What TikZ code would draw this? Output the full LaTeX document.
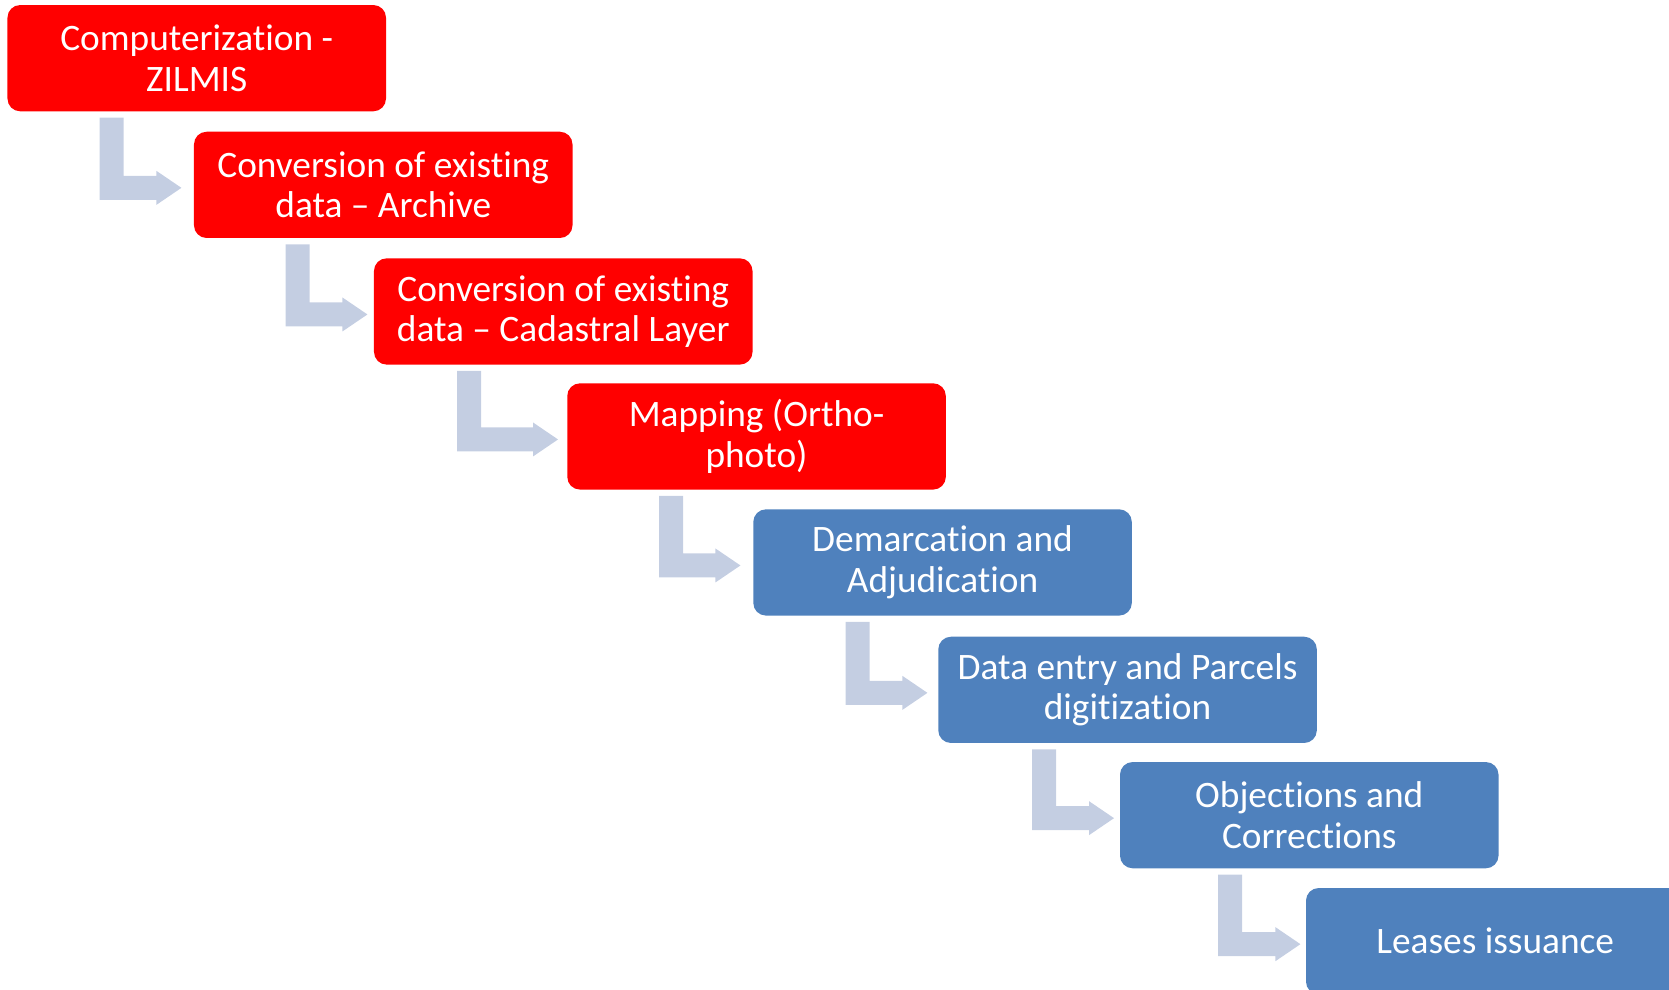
\documentclass[tikz,border=0pt]{standalone}
\usepackage{fontspec}
\setmainfont[Ligatures=NoCommon]{Carlito}
\usetikzlibrary{calc}
\definecolor{boxred}{RGB}{255,0,0}
\definecolor{boxblue}{RGB}{79,129,189}
\definecolor{arrfill}{RGB}{196,206,226}
\tikzset{
  stepbox/.style={rectangle, rounded corners=9.5pt, minimum width=283.9pt, minimum height=79.7pt,
    inner sep=0pt, text=white, align=center, font=\fontsize{28}{30.4}\selectfont},
  redbox/.style={stepbox, fill=boxred},
  bluebox/.style={stepbox, fill=boxblue},
  bentfill/.style={fill=arrfill}
}
% #1 previous node, #2 next node, #3 bar offset from previous left edge, #4 gap before next box
\newcommand\bentarr[4]{%
  \coordinate (s) at ($(#1.south west)+(#3,6)$);
  \coordinate (t) at ($(#2.west)+(-#4,3)$);
  \fill[bentfill] (s) -- ++(24,0) -- ($(s |- t)+(24,-12)$) -- ($(t)+(-25,-12)$)
    -- ($(t)+(-25,-17)$) -- (t) -- ($(t)+(-25,17)$) -- ($(t)+(-25,12)$)
    -- ($(s |- t)+(0,12)$) -- cycle;
}
\begin{document}
\begin{tikzpicture}[x=0.75pt,y=-0.75pt]
\useasboundingbox (0,0) rectangle (1669,989);
\clip (0,0) rectangle (1669,989);
\node[redbox] (b1) at (196.75,58.15) {Computerization -\\ZILMIS};
\node[redbox] (b2) at (383.25,184.85) {Conversion of existing\\data -- Archive};
\node[redbox] (b3) at (563.25,311.45) {Conversion of existing\\data -- Cadastral Layer};
\node[redbox] (b4) at (756.55,436.45) {Mapping (Ortho-\\photo)};
\node[bluebox] (b5) at (942.55,562.45) {Demarcation and\\Adjudication};
\node[bluebox] (b6) at (1127.55,689.85) {Data entry and Parcels\\digitization};
\node[bluebox] (b7) at (1309.25,815.15) {Objections and\\Corrections};
\node[bluebox] (b8) at (1495.25,941.15) {Leases issuance};
\bentarr{b1}{b2}{92.5}{12.3}
\bentarr{b2}{b3}{92}{6.3}
\bentarr{b3}{b4}{83.3}{9}
\bentarr{b4}{b5}{92}{12.6}
\bentarr{b5}{b6}{92.7}{10.6}
\bentarr{b6}{b7}{94}{5.7}
\bentarr{b7}{b8}{98.3}{5.3}
\end{tikzpicture}
\end{document}
